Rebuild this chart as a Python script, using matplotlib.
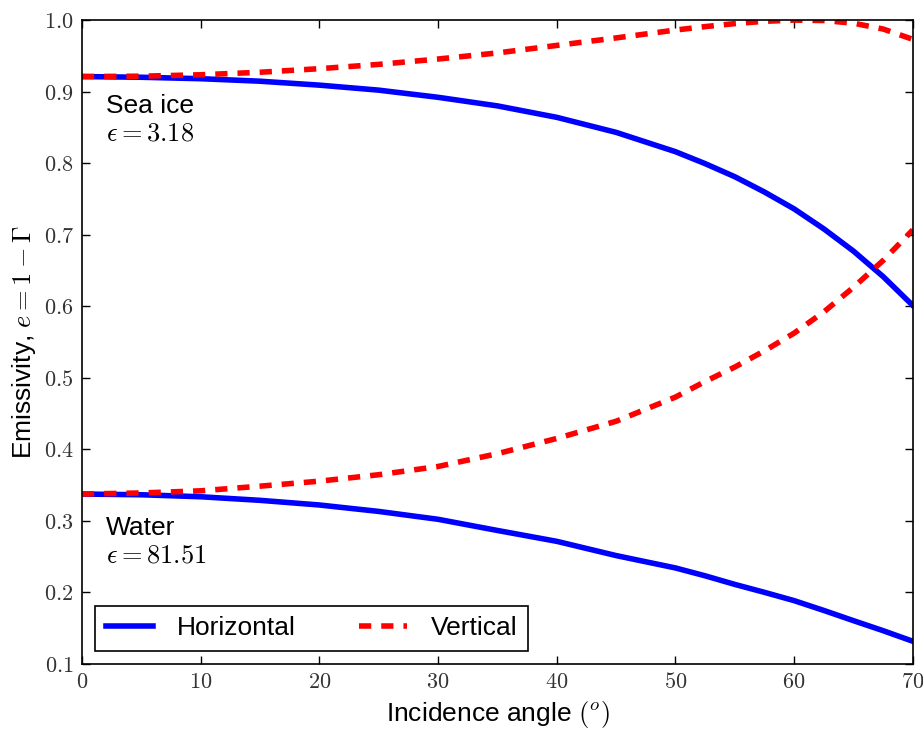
import matplotlib
matplotlib.use('Agg')
import matplotlib.pyplot as plt
from matplotlib.ticker import FuncFormatter

# values (finer steps where the curves bend most)
angle = [0, 5, 10, 15, 20, 25, 30, 35, 40, 45, 50,
         52.5, 55, 57.5, 60, 62.5, 65, 67.5, 70]

ice_h = [0.921, 0.920, 0.918, 0.9145, 0.909, 0.902, 0.892, 0.880, 0.864, 0.843, 0.816,
         0.7993, 0.781, 0.7596, 0.736, 0.7081, 0.677, 0.6414, 0.601]
ice_v = [0.921, 0.9215, 0.9235, 0.927, 0.932, 0.938, 0.9455, 0.954, 0.9645, 0.975, 0.986,
         0.9908, 0.995, 0.9982, 0.9999, 0.9993, 0.9956, 0.9874, 0.973]

water_h = [0.3375, 0.3365, 0.3337, 0.3287, 0.3222, 0.3132, 0.3022, 0.2866, 0.2714, 0.2515, 0.2342,
           0.2232, 0.2112, 0.2001, 0.1885, 0.1748, 0.1605, 0.1465, 0.1317]
water_v = [0.3375, 0.3390, 0.3420, 0.3485, 0.3555, 0.3645, 0.3760, 0.3939, 0.4152, 0.4392, 0.4730,
           0.4948, 0.5150, 0.5377, 0.5624, 0.592, 0.6265, 0.664, 0.7067]

xticks = [0, 10, 20, 30, 40, 50, 60, 70]
yticks = [0.1, 0.2, 0.3, 0.4, 0.5, 0.6, 0.7, 0.8, 0.9, 1.0]

plt.rcParams['font.family'] = ['Liberation Sans', 'DejaVu Sans']
plt.rcParams['mathtext.fontset'] = 'cm'

fig = plt.figure(figsize=(9.23, 7.31), dpi=100)
ax = fig.add_axes([0.0888, 0.0917, 0.9002, 0.8809])

dash = (0, (2.2, 1.8))
ax.plot(angle, ice_h, color='b', lw=4, label='Horizontal')
ax.plot(angle, ice_v, color='r', lw=4, linestyle=dash, label='Vertical')
ax.plot(angle, water_h, color='b', lw=4)
ax.plot(angle, water_v, color='r', lw=4, linestyle=dash)

ax.text(2.0, 0.870, 'Sea ice', fontsize=19, va='baseline')
ax.text(2.0, 0.832, r'$\epsilon = 3.18$', fontsize=19, va='baseline')
ax.text(2.0, 0.2807, 'Water', fontsize=19, va='baseline')
ax.text(2.0, 0.2416, r'$\epsilon = 81.51$', fontsize=19, va='baseline')

ax.set_xlim(0, 70)
ax.set_ylim(0.1, 1.0)
ax.set_xticks(xticks)
ax.set_yticks(yticks)
ax.xaxis.set_major_formatter(FuncFormatter(lambda v, p: r'$%d$' % v))
ax.yaxis.set_major_formatter(FuncFormatter(lambda v, p: r'$%.1f$' % v))
ax.tick_params(direction='in', top=True, right=True, length=5.5,
               width=1, labelsize=16, pad=6, labelcolor='#333333')
for s in ax.spines.values():
    s.set_linewidth(1.2)

ax.set_xlabel(r'Incidence angle $(^o)$', fontsize=19)
ax.set_ylabel(r'Emissivity, $e = 1 - \Gamma$', fontsize=19)

leg = ax.legend(loc='lower left', ncol=2, fontsize=19, fancybox=False,
                edgecolor='k', framealpha=1, handlelength=1.8,
                handletextpad=0.9, columnspacing=2.4, borderaxespad=0.5)
leg.get_frame().set_linewidth(1.2)

fig.savefig('out.png', dpi=100)
